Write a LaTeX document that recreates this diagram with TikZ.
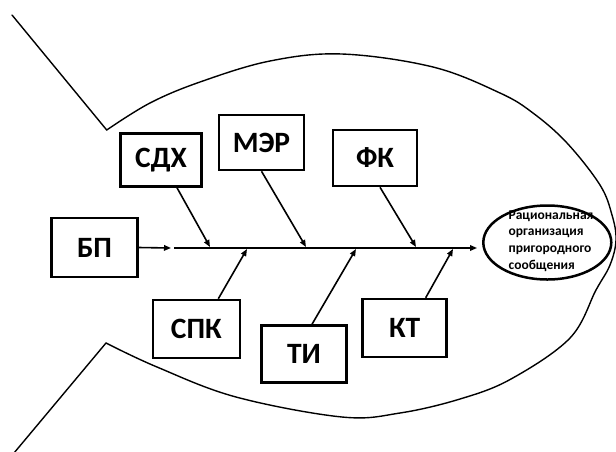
\documentclass[tikz,border=0pt]{standalone}
\usepackage{fontspec}
\setmainfont{Carlito}
\usetikzlibrary{arrows.meta,shapes.geometric,calc}

\begin{document}
\begin{tikzpicture}[x=1pt,y=-1pt,
  outline/.style={line width=1.4pt, line join=round, line cap=round},
  factor/.style={draw, line width=2.5pt, inner sep=0pt,
    font=\fontsize{29.5}{31}\selectfont\bfseries},
  goalshape/.style={draw, ellipse, line width=2.5pt, inner sep=0pt,
    minimum width=128pt, minimum height=74pt},
  cause/.style={line width=1.6pt, -{Triangle[length=7pt,width=5.5pt]}},
]
\useasboundingbox (0,0) rectangle (616,451);

% fish body and fins
\begin{scope}
  \clip (0,0) rectangle (616,451);
  \draw[outline] (12,15) -- (106.7,130);
  \draw[outline] (106,343) -- (14,453);
  \draw[outline] plot[smooth, tension=0.6] coordinates {
    (106.7,130) (150,103) (200,82) (270,61) (342,54) (433,67) (500,93)
    (533,113) (567,143) (600,185) (612,215) (616,240) (610,265) (596,290)
    (570,338) (511,379) (460,399) (400,413) (342,417) (236,397) (157,367)
    (106,343)};
\end{scope}

% factor boxes
\node[factor, minimum width=86pt, minimum height=59pt] (bp)  at (94.5,247.5) {БП};
\node[factor, minimum width=81pt, minimum height=53pt] (sdx) at (161,160)   {СДХ};
\node[factor, minimum width=85pt, minimum height=55pt] (mer) at (261.5,142.5) {МЭР};
\node[factor, minimum width=84pt, minimum height=56pt] (fk)  at (375,158)   {ФК};
\node[factor, minimum width=87pt, minimum height=58pt] (spk) at (196.3,329)  {СПК};
\node[factor, minimum width=85pt, minimum height=57pt] (ti)  at (304,354)   {ТИ};
\node[factor, minimum width=84pt, minimum height=58pt] (kt)  at (404.7,328) {КТ};

% goal
\node[goalshape] (goal) at (547.3,242.5) {};
\node[align=left, inner sep=0pt, font=\fontsize{13.5}{16.7}\selectfont\bfseries]
  (goaltext) at (551,241) {Рациональная\\организация\\пригородного\\сообщения};

% spine
\coordinate (bpend) at (171,248);
\coordinate (spine) at (174,248);
\draw[cause] (bp.east) -- (bpend);
\draw[cause, shorten >=5pt] (spine) -- (goal.west |- spine);

% points where the causes meet the spine
\coordinate (hsdx) at (210,247);
\coordinate (hmer) at (306,247);
\coordinate (hfk)  at (416,247);
\coordinate (hspk) at (247,249);
\coordinate (hti)  at (356,249);
\coordinate (hkt)  at (453,249);

\draw[cause] ([xshift=16pt]sdx.south) -- (hsdx);
\draw[cause] (mer.south) -- (hmer);
\draw[cause] ([xshift=5pt]fk.south) -- (hfk);
\draw[cause] ([xshift=22pt]spk.north) -- (hspk);
\draw[cause] ([xshift=8pt]ti.north) -- (hti);
\draw[cause] ([xshift=21pt]kt.north) -- (hkt);
\end{tikzpicture}
\end{document}
